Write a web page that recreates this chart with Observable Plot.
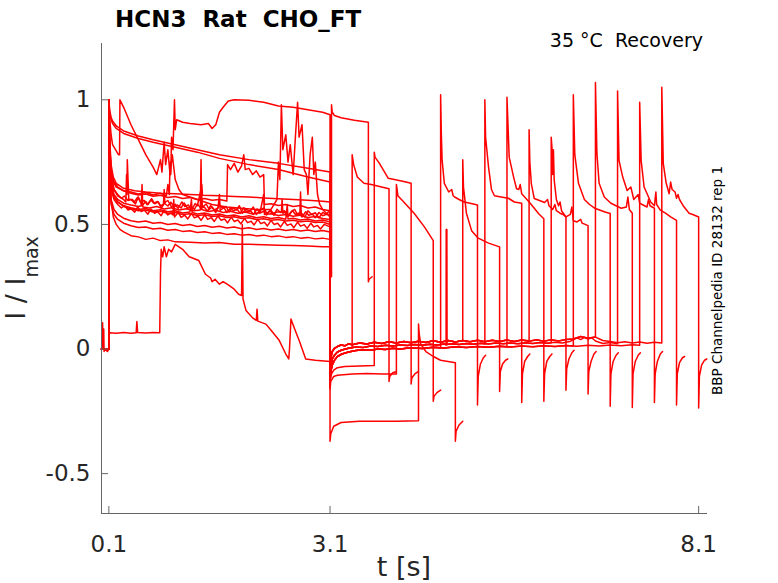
<!DOCTYPE html>
<html><head><meta charset="utf-8">
<script src="https://cdn.jsdelivr.net/npm/d3@7"></script>
<script src="https://cdn.jsdelivr.net/npm/@observablehq/plot@0.6"></script>
<style>body{margin:0;background:#fff}</style>
</head><body><div id="chart"></div>
<script>
// ---- axis ticks ----
const xTicks = [0.1, 3.1, 8.1];
const yTicks = [-0.5, 0, 0.5, 1];
const xDomain = [0, 8.22];
const yDomain = [-0.66, 1.226];

// ---- first (conditioning) pulse traces: [t (s), I/Imax] ----
const trD = [[0,0],[0.1,0],[0.1,1],[0.11,0.83],[0.13,0.72],[0.16,0.67],[0.2,0.65],[0.3,0.635],[0.4,0.63],[0.5,0.622],[0.6,0.628],[0.7,0.618],[0.8,0.625],[0.88,0.615],[0.9,0.66],[0.92,0.62],[0.93,0.75],[0.94,0.7],[0.95,0.85],[0.97,0.8],[0.99,1.0],[1.0,0.88],[1.02,0.92],[1.1,0.91],[1.2,0.905],[1.35,0.9],[1.45,0.905],[1.5,0.885],[1.55,0.9],[1.6,0.95],[1.65,0.97],[1.72,0.995],[1.8,1.0],[2.0,0.998],[2.2,0.99],[2.4,0.975],[2.6,0.97],[2.8,0.96],[3.0,0.95],[3.1,0.94]];
const trT1 = [[0,0],[0.1,0],[0.1,1],[0.11,0.96],[0.13,0.93],[0.15,0.915],[0.2,0.895],[0.3,0.875],[0.5,0.855],[0.7,0.84],[1.0,0.82],[1.3,0.8],[1.6,0.78],[2.0,0.76],[2.4,0.745],[2.8,0.725],[3.1,0.71]];
const trT2 = [[0,0],[0.1,0],[0.1,1],[0.11,0.95],[0.13,0.92],[0.15,0.905],[0.2,0.885],[0.3,0.865],[0.5,0.845],[0.7,0.83],[1.0,0.81],[1.3,0.79],[1.6,0.765],[2.0,0.74],[2.4,0.72],[2.8,0.69],[3.1,0.67]];
const trB40 = [[0,0],[0.1,0],[0.1,1],[0.11,0.85],[0.13,0.74],[0.16,0.69],[0.2,0.665],[0.3,0.645],[0.45,0.635],[0.6,0.63],[0.8,0.625],[1.0,0.623],[1.2,0.62],[1.35,0.618],[1.36,0.66],[1.37,0.617],[1.6,0.615],[1.8,0.612],[2.0,0.61],[2.2,0.606],[2.4,0.603],[2.6,0.6],[2.8,0.597],[3.0,0.593],[3.1,0.59]];
const trW = [[0,0],[0.01,0.0],[0.015,0.105],[0.02,0.0],[0.03,0.08],[0.035,-0.01],[0.05,0.0],[0.08,-0.01],[0.1,0.0],[0.105,0.065],[0.2,0.063],[0.3,0.066],[0.4,0.063],[0.47,0.065],[0.48,0.11],[0.49,0.066],[0.6,0.064],[0.7,0.066],[0.79,0.065],[0.8,0.3],[0.81,0.4],[0.83,0.37],[0.85,0.41],[0.88,0.37],[0.91,0.4],[0.95,0.39],[1.0,0.42],[1.1,0.4],[1.19,0.37],[1.32,0.355],[1.41,0.3],[1.48,0.285],[1.5,0.27],[1.54,0.28],[1.6,0.26],[1.65,0.27],[1.73,0.255],[1.8,0.24],[1.86,0.22],[1.9,0.215],[1.91,0.5],[1.92,0.2],[1.96,0.155],[2.05,0.125],[2.1,0.115],[2.11,0.16],[2.12,0.112],[2.23,0.1],[2.3,0.075],[2.41,0.035],[2.5,-0.02],[2.54,-0.04],[2.55,0.0],[2.57,0.12],[2.62,0.08],[2.68,0.035],[2.77,-0.04],[2.9,-0.045],[3.1,-0.05]];
const trB46 = [[0,0],[0.1,0],[0.1,1],[0.11,0.82],[0.13,0.7],[0.17,0.64],[0.22,0.615],[0.3,0.6],[0.33,0.59],[0.34,0.7],[0.345,0.62],[0.35,0.76],[0.37,0.6],[0.42,0.6],[0.46,0.582],[0.5,0.61],[0.55,0.575],[0.6,0.592],[0.63,0.58],[0.68,0.603],[0.72,0.583],[0.77,0.591],[0.81,0.566],[0.86,0.588],[0.9,0.596],[0.95,0.57],[1.0,0.581],[1.04,0.564],[1.09,0.59],[1.13,0.572],[1.18,0.578],[1.22,0.556],[1.27,0.584],[1.3,0.575],[1.35,0.64],[1.37,0.57],[1.42,0.582],[1.46,0.56],[1.5,0.57],[1.55,0.548],[1.6,0.579],[1.64,0.565],[1.69,0.572],[1.73,0.55],[1.78,0.567],[1.83,0.558],[1.87,0.575],[1.91,0.545],[1.96,0.562],[2.01,0.552],[2.06,0.57],[2.1,0.54],[2.15,0.556],[2.2,0.566],[2.24,0.545],[2.29,0.553],[2.34,0.537],[2.38,0.561],[2.43,0.548],[2.48,0.555],[2.52,0.532],[2.57,0.55],[2.62,0.56],[2.66,0.538],[2.71,0.546],[2.76,0.53],[2.8,0.555],[2.85,0.54],[2.9,0.547],[2.95,0.526],[3.0,0.548],[3.05,0.54],[3.1,0.56]];
const trB49 = [[0,0],[0.1,0],[0.1,1],[0.11,0.75],[0.13,0.6],[0.16,0.53],[0.2,0.5],[0.25,0.48],[0.3,0.47],[0.4,0.455],[0.5,0.45],[0.6,0.44],[0.7,0.445],[0.8,0.435],[0.9,0.438],[1.0,0.43],[1.2,0.428],[1.4,0.425],[1.6,0.427],[1.8,0.42],[2.0,0.42],[2.2,0.418],[2.4,0.416],[2.6,0.415],[2.8,0.413],[3.0,0.41],[3.1,0.41]];
const trB52 = [[0,0],[0.1,0],[0.1,1],[0.11,0.8],[0.13,0.69],[0.17,0.64],[0.22,0.62],[0.27,0.605],[0.31,0.614],[0.36,0.596],[0.4,0.6],[0.44,0.588],[0.49,0.609],[0.53,0.59],[0.58,0.596],[0.62,0.579],[0.67,0.598],[0.71,0.585],[0.76,0.592],[0.8,0.575],[0.84,0.58],[0.85,0.64],[0.86,0.583],[0.9,0.574],[0.94,0.589],[0.99,0.57],[1.03,0.578],[1.08,0.566],[1.12,0.586],[1.17,0.564],[1.21,0.574],[1.26,0.56],[1.3,0.582],[1.35,0.565],[1.39,0.571],[1.44,0.553],[1.48,0.576],[1.53,0.558],[1.58,0.566],[1.6,0.62],[1.61,0.556],[1.66,0.568],[1.7,0.548],[1.75,0.566],[1.79,0.555],[1.84,0.562],[1.88,0.544],[1.93,0.567],[1.97,0.55],[2.02,0.556],[2.06,0.54],[2.11,0.562],[2.15,0.546],[2.2,0.553],[2.24,0.538],[2.29,0.559],[2.33,0.545],[2.38,0.55],[2.44,0.55],[2.45,0.6],[2.46,0.545],[2.5,0.551],[2.54,0.534],[2.59,0.556],[2.63,0.54],[2.68,0.546],[2.72,0.53],[2.77,0.551],[2.81,0.537],[2.86,0.542],[2.9,0.527],[2.95,0.548],[3.0,0.535],[3.05,0.541],[3.1,0.54]];
const trB55 = [[0,0],[0.1,0],[0.1,1],[0.11,0.78],[0.13,0.67],[0.17,0.62],[0.22,0.6],[0.3,0.585],[0.4,0.578],[0.5,0.572],[0.54,0.575],[0.55,0.66],[0.56,0.57],[0.65,0.566],[0.75,0.572],[0.85,0.562],[0.95,0.567],[1.05,0.558],[1.15,0.563],[1.25,0.555],[1.34,0.558],[1.35,0.76],[1.36,0.56],[1.45,0.552],[1.55,0.557],[1.65,0.548],[1.75,0.553],[1.85,0.545],[1.95,0.55],[2.05,0.542],[2.15,0.547],[2.2,0.62],[2.21,0.54],[2.3,0.543],[2.4,0.536],[2.5,0.54],[2.6,0.533],[2.69,0.537],[2.7,0.63],[2.71,0.535],[2.8,0.528],[2.9,0.532],[3.0,0.524],[3.1,0.52]];
const trB58 = [[0,0],[0.1,0],[0.1,1],[0.11,0.77],[0.13,0.66],[0.17,0.61],[0.22,0.59],[0.3,0.575],[0.4,0.567],[0.5,0.56],[0.6,0.564],[0.7,0.555],[0.8,0.559],[0.9,0.551],[1.0,0.555],[1.1,0.546],[1.2,0.55],[1.22,0.6],[1.23,0.548],[1.3,0.542],[1.4,0.546],[1.5,0.538],[1.6,0.542],[1.7,0.534],[1.8,0.538],[1.9,0.53],[2.0,0.535],[2.1,0.527],[2.2,0.531],[2.3,0.524],[2.4,0.528],[2.5,0.521],[2.52,0.58],[2.53,0.522],[2.6,0.525],[2.7,0.518],[2.8,0.522],[2.9,0.514],[3.0,0.518],[3.1,0.51]];
const trB61 = [[0,0],[0.1,0],[0.1,1],[0.11,0.76],[0.13,0.64],[0.17,0.6],[0.22,0.58],[0.27,0.566],[0.31,0.576],[0.36,0.558],[0.4,0.563],[0.45,0.549],[0.49,0.57],[0.54,0.552],[0.58,0.558],[0.63,0.541],[0.67,0.562],[0.72,0.545],[0.76,0.551],[0.81,0.535],[0.85,0.556],[0.9,0.538],[0.94,0.545],[0.97,0.538],[0.98,0.6],[0.99,0.53],[1.04,0.548],[1.08,0.528],[1.13,0.537],[1.17,0.522],[1.22,0.544],[1.26,0.526],[1.31,0.533],[1.35,0.516],[1.4,0.538],[1.44,0.52],[1.49,0.527],[1.53,0.512],[1.58,0.534],[1.62,0.517],[1.67,0.522],[1.71,0.506],[1.76,0.529],[1.8,0.512],[1.85,0.518],[1.89,0.502],[1.94,0.524],[1.98,0.507],[2.03,0.513],[2.07,0.498],[2.12,0.52],[2.16,0.503],[2.21,0.509],[2.25,0.494],[2.3,0.516],[2.34,0.5],[2.39,0.505],[2.43,0.49],[2.48,0.512],[2.52,0.496],[2.57,0.502],[2.61,0.487],[2.66,0.509],[2.7,0.493],[2.75,0.499],[2.79,0.484],[2.84,0.505],[2.88,0.49],[2.93,0.496],[2.97,0.482],[3.02,0.5],[3.1,0.49]];
const trB64 = [[0,0],[0.1,0],[0.1,1],[0.11,0.72],[0.13,0.6],[0.17,0.56],[0.22,0.54],[0.3,0.525],[0.4,0.515],[0.5,0.51],[0.6,0.514],[0.7,0.505],[0.8,0.508],[0.9,0.5],[1.0,0.504],[1.1,0.496],[1.2,0.5],[1.3,0.492],[1.4,0.496],[1.5,0.489],[1.6,0.493],[1.7,0.486],[1.8,0.49],[1.9,0.483],[2.0,0.487],[2.1,0.48],[2.2,0.484],[2.3,0.478],[2.4,0.482],[2.5,0.476],[2.6,0.48],[2.7,0.474],[2.8,0.478],[2.9,0.472],[3.0,0.476],[3.1,0.47]];
const trB67 = [[0,0],[0.1,0],[0.1,1],[0.11,0.7],[0.13,0.58],[0.17,0.54],[0.22,0.52],[0.3,0.505],[0.4,0.495],[0.5,0.488],[0.6,0.49],[0.7,0.482],[0.8,0.485],[0.9,0.477],[1.0,0.48],[1.1,0.472],[1.2,0.475],[1.3,0.468],[1.4,0.471],[1.5,0.464],[1.6,0.467],[1.7,0.46],[1.8,0.463],[1.9,0.457],[2.0,0.46],[2.1,0.454],[2.2,0.457],[2.3,0.451],[2.4,0.454],[2.5,0.448],[2.6,0.451],[2.7,0.445],[2.8,0.448],[2.9,0.442],[3.0,0.445],[3.1,0.44]];
const trB70 = [[0,0],[0.1,0],[0.1,1],[0.11,0.82],[0.13,0.72],[0.17,0.67],[0.22,0.65],[0.3,0.635],[0.4,0.625],[0.5,0.618],[0.6,0.622],[0.7,0.613],[0.8,0.617],[0.9,0.608],[1.0,0.612],[1.1,0.604],[1.2,0.608],[1.3,0.6],[1.4,0.604],[1.5,0.597],[1.6,0.6],[1.7,0.594],[1.71,0.74],[1.75,0.72],[1.8,0.745],[1.85,0.71],[1.9,0.735],[1.93,0.78],[1.95,0.72],[2.0,0.725],[2.05,0.7],[2.1,0.715],[2.15,0.69],[2.2,0.7],[2.21,0.58],[2.3,0.583],[2.4,0.576],[2.5,0.58],[2.6,0.572],[2.7,0.576],[2.8,0.566],[2.9,0.57],[3.0,0.56],[3.1,0.555]];
const trB73 = [[0,0],[0.1,0],[0.1,1],[0.11,0.78],[0.13,0.66],[0.17,0.61],[0.22,0.59],[0.3,0.572],[0.4,0.562],[0.5,0.555],[0.6,0.558],[0.7,0.55],[0.8,0.553],[0.9,0.545],[1.0,0.548],[1.1,0.54],[1.2,0.543],[1.3,0.536],[1.4,0.539],[1.5,0.532],[1.6,0.535],[1.7,0.528],[1.8,0.531],[1.9,0.524],[2.0,0.527],[2.1,0.52],[2.2,0.523],[2.3,0.517],[2.4,0.52],[2.5,0.514],[2.6,0.517],[2.7,0.511],[2.8,0.514],[2.9,0.508],[3.0,0.51],[3.1,0.5]];
const trT3 = [[0,0],[0.1,0],[0.1,1],[0.11,0.93],[0.13,0.86],[0.15,0.82],[0.23,0.78],[0.245,0.78],[0.25,1.0],[0.3,0.97],[0.4,0.9],[0.5,0.84],[0.6,0.78],[0.7,0.73],[0.75,0.7],[0.8,0.76],[0.82,0.71],[0.85,0.83],[0.87,0.74],[0.9,0.8],[0.93,0.7],[0.96,0.78],[1.0,0.68],[1.05,0.64],[1.1,0.62],[1.3,0.6],[1.5,0.58],[1.7,0.57],[1.9,0.565],[2.1,0.56],[2.3,0.56],[2.38,0.6],[2.4,0.75],[2.42,0.68],[2.44,0.98],[2.46,0.8],[2.5,0.86],[2.53,0.75],[2.56,0.82],[2.6,0.7],[2.63,0.85],[2.66,0.99],[2.68,0.85],[2.72,0.9],[2.75,0.72],[2.78,0.7],[2.8,0.62],[2.83,0.78],[2.86,0.85],[2.88,0.7],[2.9,0.75],[2.93,0.62],[2.96,0.58],[3.0,0.56],[3.1,0.53]];

// ---- interval between pulses (after 3.1 s) ----
const baseA = [[3.1,-0.13],[3.105,-0.09],[3.115,-0.06],[3.13,-0.04],[3.16,-0.025],[3.2,-0.012],[3.26,-0.004],[3.35,0.003],[3.45,0.008],[3.55,0.006],[3.65,0.012],[3.75,0.01],[3.85,0.015],[3.95,0.012],[4.05,0.016],[4.15,0.014],[4.25,0.018],[4.35,0.015],[4.45,0.019],[4.55,0.016],[4.65,0.02],[4.679,0.017],[4.68,0.48],[4.682,0.018],[4.75,0.021],[4.85,0.018],[4.95,0.022],[5.05,0.019],[5.15,0.023],[5.25,0.02],[5.35,0.024],[5.45,0.021],[5.55,0.024],[5.65,0.021],[5.75,0.025],[5.85,0.022],[5.95,0.026],[6.05,0.023],[6.15,0.027],[6.25,0.024],[6.35,0.03],[6.45,0.045],[6.5,0.038],[6.55,0.047],[6.6,0.04],[6.65,0.045],[6.7,0.032],[6.8,0.022],[6.9,0.026],[7.0,0.021],[7.1,0.025],[7.2,0.02],[7.3,0.022],[7.4,0.019],[7.5,0.023],[7.6,0.021]];
const baseB = [[3.1,-0.14],[3.105,-0.11],[3.115,-0.085],[3.13,-0.065],[3.16,-0.045],[3.2,-0.03],[3.26,-0.02],[3.35,-0.012],[3.45,-0.006],[3.55,-0.003],[3.65,-0.005],[3.75,0.0],[3.85,-0.002],[3.95,0.003],[4.05,0.0],[4.2,0.005],[4.35,0.002],[4.5,0.007],[4.65,0.004],[4.8,0.009],[4.95,0.006],[5.1,0.01],[5.25,0.007],[5.4,0.011],[5.55,0.008],[5.7,0.012],[5.85,0.009],[6.0,0.013],[6.15,0.01],[6.3,0.014],[6.45,0.011],[6.6,0.015],[6.75,0.012],[6.9,0.016],[7.05,0.013],[7.2,0.017],[7.35,0.014],[7.5,0.017],[7.6,0.015]];
const baseC = [[3.1,-0.12],[3.105,-0.06],[3.115,-0.03],[3.13,-0.01],[3.16,0.003],[3.2,0.01],[3.25,0.016],[3.3,0.013],[3.35,0.021],[3.4,0.017],[3.5,0.024],[3.6,0.02],[3.7,0.027],[3.8,0.022],[3.9,0.029],[4.0,0.024],[4.1,0.03],[4.2,0.025],[4.3,0.031],[4.4,0.026],[4.5,0.033],[4.6,0.027],[4.7,0.034],[4.8,0.028],[4.9,0.034],[5.0,0.029],[5.1,0.035],[5.2,0.029],[5.3,0.035],[5.4,0.03],[5.5,0.036],[5.6,0.03],[5.7,0.036],[5.8,0.031],[5.9,0.037],[6.0,0.031],[6.1,0.037],[6.2,0.032],[6.3,0.038],[6.4,0.04],[6.5,0.05],[6.6,0.043],[6.7,0.048],[6.8,0.034],[6.9,0.03],[7.0,0.025],[7.1,0.029],[7.2,0.024],[7.3,0.028],[7.4,0.023],[7.5,0.027],[7.6,0.024]];
const betweenD = [[3.1,0.29]];
const base37 = [[3.1,-0.15],[3.105,-0.12],[3.12,-0.1],[3.15,-0.085],[3.2,-0.075],[3.3,-0.07],[3.5,-0.068]];
const base40 = [[3.1,-0.16],[3.11,-0.13],[3.15,-0.11],[3.2,-0.105],[3.4,-0.1],[3.6,-0.098],[3.8,-0.1]];
const base43 = [[3.1,-0.37],[3.11,-0.34],[3.15,-0.31],[3.25,-0.295],[3.5,-0.29],[4.0,-0.29]];

// ---- second (test) pulse and tail ----
const p2_312 = [[3.12,0.29],[3.12,0.98],[3.13,0.95],[3.16,0.937],[3.25,0.928],[3.43,0.918],[3.62,0.91]];
const tail_312 = [[3.62,0.27],[3.63,0.28],[3.67,0.29]];
const p2_34 = [[3.4,0.005],[3.4,0.78],[3.42,0.74],[3.47,0.69],[3.56,0.665],[3.66,0.66],[3.8,0.65],[3.9,0.643]];
const tail_34 = [[3.9,-0.13],[3.91,-0.11],[3.95,-0.095],[4.0,-0.09]];
const p2_37 = [[3.7,-0.066],[3.7,0.79],[3.71,0.77],[3.77,0.745],[3.89,0.685],[4.02,0.677],[4.1,0.672],[4.2,0.665]];
const tail_37 = [[4.2,-0.14],[4.21,-0.115],[4.25,-0.1],[4.3,-0.09]];
const p2_40 = [[4.0,-0.1],[4.0,0.66],[4.01,0.64],[4.02,0.615],[4.1,0.59],[4.24,0.545],[4.38,0.49],[4.5,0.435]];
const tail_40 = [[4.5,-0.21],[4.51,-0.19],[4.55,-0.175],[4.6,-0.165]];
const p2_43 = [[4.3,-0.288],[4.3,0.1],[4.31,0.06],[4.33,0.02],[4.4,-0.01],[4.5,-0.03],[4.6,-0.045],[4.7,-0.05],[4.8,-0.055]];
const tail_43 = [[4.8,-0.37],[4.81,-0.33],[4.85,-0.305],[4.9,-0.29]];
const p2_46 = [[4.6,0.004],[4.6,1.02],[4.61,0.86],[4.62,0.76],[4.65,0.665],[4.71,0.63],[4.75,0.64],[4.77,0.615],[4.79,0.61],[4.85,0.6],[4.92,0.59],[5.0,0.585],[5.1,0.578]];
const tail_46 = [[5.1,-0.225],[5.11,-0.11],[5.14,-0.06],[5.18,-0.035],[5.21,-0.025]];
const p2_49 = [[4.9,0.034],[4.9,0.76],[4.91,0.65],[4.95,0.545],[5.02,0.475],[5.11,0.445],[5.25,0.425],[5.4,0.41]];
const tail_49 = [[5.4,-0.17],[5.41,-0.09],[5.44,-0.06],[5.48,-0.045],[5.51,-0.04]];
const p2_52 = [[5.2,0.02],[5.2,1.0],[5.21,0.85],[5.25,0.73],[5.29,0.64],[5.33,0.615],[5.42,0.61],[5.52,0.605],[5.6,0.59],[5.7,0.585]];
const tail_52 = [[5.7,-0.215],[5.71,-0.1],[5.74,-0.05],[5.78,-0.03],[5.81,-0.02]];
const p2_55 = [[5.5,0.009],[5.5,1.01],[5.53,0.77],[5.59,0.69],[5.63,0.643],[5.66,0.64],[5.68,0.66],[5.7,0.623],[5.81,0.587],[5.93,0.543],[6.0,0.523]];
const tail_55 = [[6.0,-0.21],[6.01,-0.1],[6.04,-0.05],[6.08,-0.03],[6.11,-0.02]];
const p2_58 = [[5.8,0.033],[5.8,0.88],[5.81,0.75],[5.83,0.664],[5.87,0.604],[5.95,0.595],[6.01,0.588],[6.05,0.6],[6.07,0.575],[6.12,0.56],[6.15,0.58],[6.17,0.555],[6.22,0.545],[6.26,0.54],[6.3,0.53]];
const tail_58 = [[6.3,-0.165],[6.31,-0.08],[6.34,-0.04],[6.38,-0.015],[6.41,-0.005]];
const p2_61 = [[6.1,0.025],[6.1,0.85],[6.11,0.81],[6.12,0.7],[6.13,0.8],[6.14,0.68],[6.17,0.6],[6.2,0.575],[6.22,0.59],[6.24,0.555],[6.3,0.53],[6.36,0.54],[6.38,0.57],[6.4,0.515],[6.45,0.51],[6.5,0.52],[6.52,0.505],[6.6,0.495]];
const tail_61 = [[6.6,-0.18],[6.61,-0.09],[6.64,-0.05],[6.68,-0.02],[6.71,-0.01]];
const p2_64 = [[6.4,0.012],[6.4,1.02],[6.42,0.78],[6.47,0.665],[6.55,0.6],[6.62,0.58],[6.69,0.565],[6.83,0.55],[6.9,0.544]];
const tail_64 = [[6.9,-0.23],[6.91,-0.1],[6.94,-0.05],[6.98,-0.025],[7.01,-0.015]];
const p2_67 = [[6.7,0.048],[6.7,1.07],[6.72,0.785],[6.75,0.665],[6.82,0.61],[6.91,0.585],[7.05,0.565],[7.12,0.57],[7.14,0.61],[7.16,0.56],[7.2,0.545]];
const tail_67 = [[7.2,-0.235],[7.21,-0.1],[7.24,-0.05],[7.28,-0.025],[7.31,-0.015]];
const p2_70 = [[7.0,0.021],[7.0,1.035],[7.02,0.757],[7.07,0.69],[7.13,0.636],[7.18,0.65],[7.22,0.6],[7.28,0.62],[7.3,0.585],[7.4,0.57],[7.42,0.6],[7.44,0.575],[7.5,0.565]];
const tail_70 = [[7.5,-0.215],[7.51,-0.1],[7.54,-0.05],[7.58,-0.02],[7.61,-0.01]];
const p2_73 = [[7.3,0.015],[7.3,0.99],[7.32,0.757],[7.36,0.65],[7.45,0.59],[7.5,0.575],[7.52,0.63],[7.53,0.58],[7.58,0.557],[7.65,0.545],[7.72,0.53],[7.8,0.516]];
const tail_73 = [[7.8,-0.225],[7.81,-0.1],[7.84,-0.055],[7.88,-0.035],[7.91,-0.03]];
const p2_76 = [[7.6,0.024],[7.6,1.05],[7.62,0.745],[7.66,0.665],[7.7,0.623],[7.72,0.67],[7.74,0.64],[7.78,0.63],[7.8,0.605],[7.82,0.62],[7.84,0.6],[7.89,0.575],[7.97,0.545],[8.02,0.54],[8.1,0.53]];
const tail_76 = [[8.1,-0.237],[8.11,-0.11],[8.14,-0.065],[8.18,-0.045],[8.21,-0.04]];

// ---- sweeps: test-pulse start times ----
const sweepStart = [3.12,3.4,3.7,4.0,4.3,4.6,4.9,5.2,5.5,5.8,6.1,6.4,6.7,7.0,7.3,7.6];
const sweepParts = [
  [trD, betweenD, p2_312, tail_312],
  [trT1, baseA, p2_34, tail_34],
  [trT2, base37, p2_37, tail_37],
  [trB40, base40, p2_40, tail_40],
  [trW, base43, p2_43, tail_43],
  [trB46, baseB, p2_46, tail_46],
  [trB49, baseC, p2_49, tail_49],
  [trB52, baseA, p2_52, tail_52],
  [trB55, baseB, p2_55, tail_55],
  [trB58, baseC, p2_58, tail_58],
  [trB61, baseA, p2_61, tail_61],
  [trB64, baseB, p2_64, tail_64],
  [trB67, baseC, p2_67, tail_67],
  [trB70, baseA, p2_70, tail_70],
  [trB73, baseB, p2_73, tail_73],
  [trT3, baseC, p2_76, tail_76]
];

const rows = [];
sweepParts.forEach((parts, i) => {
  const t2 = sweepStart[i];
  const [p1, mid, p2, tail] = parts;
  const pts = [...p1, ...mid.filter(d => d[0] < t2), ...p2, ...tail];
  pts.forEach(([t, v]) => rows.push({sweep: i, t, v}));
});

const axisColor = "#666";
const textColor = "#262626";

const svg = Plot.plot({
  width: 778, height: 583,
  marginLeft: 101, marginRight: 71, marginTop: 43, marginBottom: 70,
  x: {domain: xDomain},
  y: {domain: yDomain},
  style: {fontFamily: "DejaVu Sans", background: "#fff", color: textColor},
  marks: [
    Plot.line(rows, {x: "t", y: "v", z: "sweep", stroke: "#ff0000", strokeWidth: 1.5, strokeLinejoin: "round"}),
    Plot.ruleX([xDomain[0]], {stroke: axisColor}),
    Plot.ruleY([yDomain[0]], {stroke: axisColor}),
    Plot.ruleX(xTicks, {y1: yDomain[0], y2: yDomain[0], insetTop: -7, stroke: axisColor}),
    Plot.ruleY(yTicks, {x1: xDomain[0], x2: xDomain[0], insetRight: -7, stroke: axisColor}),
    Plot.axisX({ticks: xTicks, tickSize: 0, tickPadding: 22, fontSize: 23, tickFormat: d => String(d), label: null, fill: textColor}),
    Plot.axisY({ticks: yTicks, tickSize: 0, tickPadding: 11, fontSize: 23, tickFormat: d => String(d), label: null, fill: textColor})
  ]
});

const s = d3.select(svg);
s.append("text").attr("x", 115).attr("y", 27).attr("text-anchor", "start")
  .attr("font-family", "DejaVu Sans").attr("font-weight", "bold").attr("font-size", 23)
  .attr("fill", "#000").style("white-space", "pre").text("HCN3  Rat  CHO_FT");
s.append("text").attr("x", 703).attr("y", 47).attr("text-anchor", "end")
  .attr("font-family", "DejaVu Sans").attr("font-size", 19)
  .attr("fill", "#000").style("white-space", "pre").text("35 °C  Recovery");
s.append("text").attr("transform", "translate(722,395) rotate(-90)").attr("text-anchor", "start")
  .attr("font-family", "DejaVu Sans").attr("font-size", 13.5)
  .attr("fill", "#000").text("BBP Channelpedia ID 28132 rep 1");
s.append("text").attr("x", 404).attr("y", 576).attr("text-anchor", "middle")
  .attr("font-family", "DejaVu Sans").attr("font-size", 27)
  .attr("fill", textColor).text("t [s]");
const yl = s.append("text").attr("transform", "translate(25,278) rotate(-90)")
  .attr("text-anchor", "middle").attr("font-family", "DejaVu Sans")
  .attr("font-size", 27).attr("fill", textColor).style("white-space", "pre");
yl.append("tspan").text("I / I");
yl.append("tspan").attr("font-size", 19).attr("dy", 13).text("max");

document.getElementById("chart").appendChild(svg);
</script>
</body></html>
